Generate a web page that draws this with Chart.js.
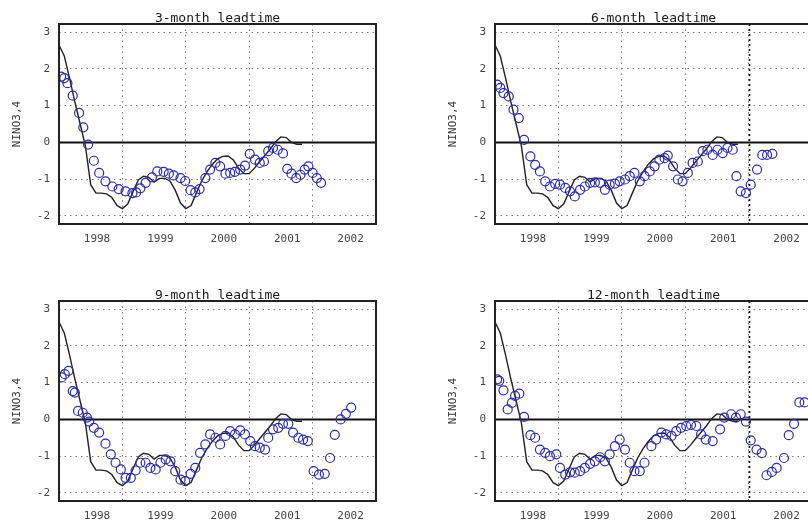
<!DOCTYPE html>
<html>
<head>
<meta charset="utf-8">
<script src="https://cdn.jsdelivr.net/npm/chart.js@4.4.0/dist/chart.umd.min.js"></script>
<style>
html,body{margin:0;padding:0;background:#fff;overflow:hidden;width:808px;height:523px;}
canvas{position:absolute;}
</style>
</head>
<body>
<canvas id="c1" width="400" height="262" style="left:0px;top:0px;width:400px;height:262px"></canvas>
<canvas id="c2" width="400" height="262" style="left:436px;top:0px;width:400px;height:262px"></canvas>
<canvas id="c3" width="400" height="262" style="left:0px;top:277px;width:400px;height:262px"></canvas>
<canvas id="c4" width="400" height="262" style="left:436px;top:277px;width:400px;height:262px"></canvas>
<script>
// ---- tick labels ----
const YEAR_LABELS = ['1998', '1999', '2000', '2001', '2002'];
const Y_TICKS = [-2, -1, 0, 1, 2, 3];
const Y_TITLE = 'NINO3,4';
const TITLES = ['3-month leadtime', '6-month leadtime', '9-month leadtime', '12-month leadtime'];

// ---- observed NINO3.4 (monthly, starting Jan 1998) ----
const OBS = [2.65, 2.35, 1.75, 1.1, 0.5, -0.1, -1.15, -1.38, -1.38, -1.4,
  -1.5, -1.72, -1.8, -1.68, -1.35, -1.02, -0.92, -0.95, -1.08, -0.98,
  -0.98, -1.05, -1.3, -1.65, -1.8, -1.72, -1.38, -1.05, -0.8, -0.6,
  -0.45, -0.38, -0.37, -0.48, -0.7, -0.85, -0.85, -0.7, -0.52, -0.35,
  -0.18, 0.02, 0.15, 0.13, 0.0, -0.05, -0.05];

// ---- forecasts: target month (months since Jan 1998) and value ----
const LEAD3_MONTHS = [0.4, 1.0, 1.6, 2.6, 3.8, 4.6, 5.5, 6.6, 7.6, 8.8,
  10.1, 11.3, 12.6, 13.9, 14.6, 15.4, 16.4, 17.6, 18.6, 19.8,
  20.8, 21.7, 23.0, 23.9, 24.9, 25.8, 26.6, 27.7, 28.6, 29.6,
  30.5, 31.5, 32.4, 33.3, 34.3, 35.2, 36.1, 37.1, 38.0, 38.8,
  39.6, 40.5, 41.4, 42.4, 43.2, 44.0, 44.9, 45.7, 46.5, 47.2,
  48.0, 48.8, 49.6];
const LEAD3_VALUES = [1.79, 1.75, 1.61, 1.27, 0.8, 0.41, -0.06, -0.5, -0.83, -1.06,
  -1.2, -1.27, -1.33, -1.38, -1.36, -1.25, -1.1, -0.95, -0.79, -0.8,
  -0.85, -0.9, -0.97, -1.05, -1.3, -1.36, -1.27, -0.97, -0.74, -0.56,
  -0.65, -0.85, -0.83, -0.8, -0.74, -0.63, -0.31, -0.47, -0.56, -0.52,
  -0.24, -0.15, -0.2, -0.3, -0.72, -0.85, -0.97, -0.88, -0.74, -0.65,
  -0.83, -0.97, -1.1];

const LEAD6_MONTHS = [0.4, 1.0, 1.6, 2.6, 3.5, 4.5, 5.5, 6.7, 7.6, 8.5,
  9.5, 10.4, 11.4, 12.3, 13.3, 14.2, 15.1, 16.1, 17.0, 18.0,
  18.9, 19.9, 20.8, 21.7, 22.7, 23.6, 24.6, 25.5, 26.4, 27.4,
  28.3, 29.3, 30.2, 31.1, 32.1, 32.7, 33.7, 34.6, 35.5, 36.5,
  37.4, 38.4, 39.3, 40.2, 41.2, 42.1, 43.1, 44.0, 45.0, 45.7,
  46.5, 47.5, 48.4, 49.6, 50.6, 51.5, 52.5];
const LEAD6_VALUES = [1.57, 1.48, 1.34, 1.25, 0.89, 0.66, 0.07, -0.38, -0.61, -0.79,
  -1.06, -1.2, -1.13, -1.15, -1.24, -1.33, -1.47, -1.29, -1.2, -1.1,
  -1.09, -1.1, -1.29, -1.15, -1.12, -1.06, -1.01, -0.92, -0.83, -1.06,
  -0.92, -0.79, -0.65, -0.47, -0.43, -0.36, -0.65, -1.01, -1.06, -0.83,
  -0.56, -0.52, -0.24, -0.2, -0.34, -0.2, -0.29, -0.15, -0.2, -0.92,
  -1.33, -1.38, -1.15, -0.74, -0.34, -0.34, -0.31];

const LEAD9_MONTHS = [0.5, 1.1, 1.8, 2.6, 3.0, 3.6, 4.5, 5.3, 5.7, 6.6,
  7.6, 8.8, 9.8, 10.7, 11.7, 12.6, 13.6, 14.5, 15.4, 16.4,
  17.3, 18.3, 19.2, 20.2, 21.1, 22.0, 23.0, 23.9, 24.9, 25.8,
  26.7, 27.7, 28.6, 29.6, 30.5, 31.5, 32.4, 33.3, 34.3, 35.2,
  36.2, 37.1, 38.0, 39.0, 39.6, 40.5, 41.5, 42.4, 43.4, 44.3,
  45.3, 46.2, 47.1, 48.2, 49.2, 50.3, 51.3, 52.2, 53.3, 54.3, 55.3];
const LEAD9_VALUES = [1.14, 1.23, 1.32, 0.77, 0.73, 0.23, 0.18, 0.05, -0.06, -0.23,
  -0.36, -0.66, -0.95, -1.18, -1.36, -1.59, -1.59, -1.39, -1.18, -1.18,
  -1.32, -1.36, -1.18, -1.09, -1.14, -1.41, -1.64, -1.68, -1.48, -1.32,
  -0.91, -0.68, -0.41, -0.5, -0.68, -0.45, -0.32, -0.41, -0.3, -0.41,
  -0.59, -0.73, -0.77, -0.82, -0.5, -0.27, -0.23, -0.12, -0.12, -0.36,
  -0.5, -0.55, -0.59, -1.41, -1.5, -1.48, -1.05, -0.42, 0.0, 0.15, 0.32];

const LEAD12_MONTHS = [0.4, 0.8, 1.6, 2.4, 3.2, 3.8, 4.6, 5.5, 6.7, 7.6,
  8.5, 9.5, 10.4, 11.6, 12.3, 13.3, 14.2, 15.1, 16.1, 17.0,
  18.0, 18.9, 19.9, 20.8, 21.7, 22.7, 23.6, 24.6, 25.5, 26.4,
  27.4, 28.3, 29.6, 30.5, 31.5, 32.4, 33.4, 34.3, 35.2, 36.2,
  37.1, 38.1, 39.0, 39.9, 41.2, 42.6, 43.4, 44.7, 45.6, 46.5,
  47.5, 48.4, 49.5, 50.5, 51.4, 52.4, 53.3, 54.7, 55.6, 56.6, 57.6, 58.6];
const LEAD12_VALUES = [1.09, 1.05, 0.79, 0.27, 0.45, 0.64, 0.7, 0.07, -0.43, -0.5,
  -0.82, -0.91, -1.0, -0.95, -1.32, -1.5, -1.44, -1.45, -1.41, -1.32,
  -1.21, -1.14, -1.03, -1.14, -0.95, -0.73, -0.55, -0.82, -1.18, -1.41,
  -1.41, -1.18, -0.73, -0.55, -0.36, -0.41, -0.45, -0.32, -0.23, -0.18,
  -0.15, -0.18, -0.41, -0.55, -0.59, -0.27, 0.05, 0.14, 0.05, 0.14,
  -0.06, -0.57, -0.82, -0.92, -1.52, -1.43, -1.32, -1.05, -0.43, -0.12, 0.46, 0.46];

const FONT = '"DejaVu Sans Mono", "Liberation Mono", monospace';
const YEAR_TICKS = YEAR_LABELS.map(l => (Number(l) - Number(YEAR_LABELS[0])) * 12);

function panelPlugin(title, heavyYear) {
  return {
    id: 'panel',
    beforeDatasetsDraw(chart) {
      const {ctx, chartArea: a, scales} = chart;
      ctx.save();
      if (heavyYear !== null) {
        const x = Math.round(scales.x.getPixelForValue(heavyYear)) + 0.5;
        ctx.strokeStyle = '#111';
        ctx.lineWidth = 1.6;
        ctx.setLineDash([2, 3]);
        ctx.beginPath(); ctx.moveTo(x, a.top); ctx.lineTo(x, a.bottom); ctx.stroke();
        ctx.setLineDash([]);
      }
      const y0 = scales.y.getPixelForValue(0);
      ctx.strokeStyle = '#111';
      ctx.lineWidth = 2;
      ctx.beginPath(); ctx.moveTo(a.left, y0); ctx.lineTo(a.right, y0); ctx.stroke();
      ctx.restore();
    },
    afterDraw(chart) {
      const {ctx, chartArea: a} = chart;
      ctx.save();
      ctx.strokeStyle = '#222';
      ctx.lineWidth = 2;
      ctx.strokeRect(a.left, a.top, a.right - a.left, a.bottom - a.top);
      ctx.fillStyle = '#1a1a1a';
      ctx.font = '13px ' + FONT;
      ctx.textAlign = 'center';
      ctx.textBaseline = 'alphabetic';
      ctx.fillText(title, (a.left + a.right) / 2, a.top - 2);
      ctx.restore();
    }
  };
}

function makeChart(id, title, months, values, heavyYear) {
  return new Chart(document.getElementById(id), {
    type: 'scatter',
    data: {
      datasets: [
        {
          type: 'line',
          data: OBS.map((v, i) => ({x: i, y: v})),
          borderColor: '#222',
          borderWidth: 1.4,
          pointRadius: 0,
          tension: 0,
          fill: false,
          order: 2
        },
        {
          type: 'scatter',
          data: months.map((m, i) => ({x: m, y: values[i]})),
          borderColor: '#2b2bae',
          backgroundColor: 'rgba(0,0,0,0)',
          pointRadius: 4.5,
          pointBorderWidth: 1.2,
          borderWidth: 1.2,
          order: 1
        }
      ]
    },
    options: {
      responsive: false,
      animation: false,
      devicePixelRatio: 1,
      layout: {padding: {top: 24, right: 24, bottom: 0, left: 0}},
      plugins: {legend: {display: false}, tooltip: {enabled: false}, title: {display: false}},
      scales: {
        x: {
          type: 'linear', min: 0, max: 60,
          afterBuildTicks: s => { s.ticks = YEAR_TICKS.map(v => ({value: v})); },
          afterFit: s => { s.height = 38; },
          grid: {color: '#7a7a7a', lineWidth: 1, drawTicks: false},
          border: {display: false, dash: [1.5, 4]},
          ticks: {
            autoSkip: false, maxRotation: 0, padding: 9, labelOffset: 38,
            color: '#444', font: {family: FONT, size: 11},
            callback: (v, i) => YEAR_LABELS[i]
          }
        },
        y: {
          type: 'linear', min: -2.22, max: 3.22,
          afterBuildTicks: s => { s.ticks = Y_TICKS.map(v => ({value: v})); },
          afterFit: s => { s.width = 59; },
          grid: {color: '#7a7a7a', lineWidth: 1, drawTicks: false},
          border: {display: false, dash: [1.5, 4]},
          ticks: {padding: 9, color: '#444', font: {family: FONT, size: 11}, callback: v => String(v)},
          title: {display: true, text: Y_TITLE, color: '#333', font: {family: FONT, size: 11}, padding: {top: 11, bottom: 0}}
        }
      }
    },
    plugins: [panelPlugin(title, heavyYear)]
  });
}

makeChart('c1', TITLES[0], LEAD3_MONTHS, LEAD3_VALUES, null);
makeChart('c2', TITLES[1], LEAD6_MONTHS, LEAD6_VALUES, YEAR_TICKS[4]);
makeChart('c3', TITLES[2], LEAD9_MONTHS, LEAD9_VALUES, null);
makeChart('c4', TITLES[3], LEAD12_MONTHS, LEAD12_VALUES, YEAR_TICKS[4]);
</script>
</body>
</html>
